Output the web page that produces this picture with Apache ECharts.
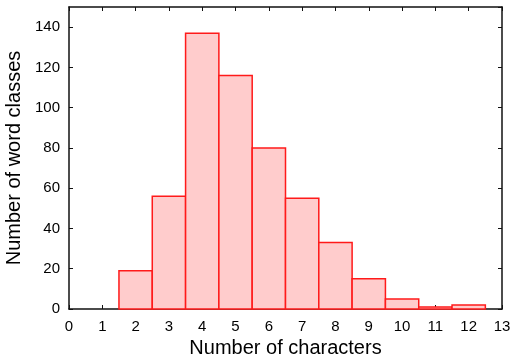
<!DOCTYPE html>
<html>
<head>
<meta charset="utf-8">
<script src="https://cdn.jsdelivr.net/npm/echarts@6/dist/echarts.min.js"></script>
<style>
  html, body { margin: 0; padding: 0; background: #fff; }
  #chart { width: 512px; height: 359px; }
</style>
</head>
<body>
<div id="chart"></div>
<script>
// Word-class counts by word length (characters)
const lengths = [2, 3, 4, 5, 6, 7, 8, 9, 10, 11, 12];
const counts  = [19, 56, 137, 116, 80, 55, 33, 15, 5, 1, 2];

const xTitle = 'Number of characters';
const yTitle = 'Number of word classes';

const font = 'Liberation Sans, Arial, Helvetica, sans-serif';
const frame = { show: true, onZero: false, lineStyle: { color: '#111', width: 1.5 } };
const ticks = { show: true, inside: true, length: 4, lineStyle: { color: '#111' } };

const chart = echarts.init(document.getElementById('chart'));
chart.setOption({
  animation: false,
  grid: { left: 69, right: 10, top: 7, bottom: 50, containLabel: false, outerBoundsMode: 'none' },
  xAxis: [
    {
      type: 'value', min: 0, max: 13, interval: 1,
      axisLine: frame, axisTick: ticks,
      axisLabel: { color: '#000', fontSize: 15, fontFamily: font, margin: 10 },
      splitLine: { show: false },
      name: xTitle, nameLocation: 'middle', nameGap: 28,
      nameTextStyle: { color: '#000', fontSize: 20, fontFamily: font }
    },
    {
      type: 'value', min: 0, max: 13, interval: 1, position: 'top',
      axisLine: frame, axisTick: ticks,
      axisLabel: { show: false }, splitLine: { show: false }
    }
  ],
  yAxis: [
    {
      type: 'value', min: 0, max: 150, interval: 20,
      axisLine: frame, axisTick: ticks,
      axisLabel: { color: '#000', fontSize: 15, fontFamily: font, margin: 9, showMaxLabel: false },
      splitLine: { show: false },
      name: yTitle, nameLocation: 'middle', nameGap: 41,
      nameTextStyle: { color: '#000', fontSize: 20, fontFamily: font }
    },
    {
      type: 'value', min: 0, max: 150, interval: 20, position: 'right',
      axisLine: frame, axisTick: ticks,
      axisLabel: { show: false }, splitLine: { show: false }
    }
  ],
  series: [{
    type: 'custom',
    xAxisIndex: 0, yAxisIndex: 0,
    data: lengths.map((l, i) => [l, counts[i]]),
    renderItem: function (params, api) {
      const x = api.value(0), y = api.value(1);
      const p0 = api.coord([x - 0.5, y]);
      const p1 = api.coord([x + 0.5, 0]);
      return {
        type: 'rect',
        shape: { x: p0[0], y: p0[1], width: p1[0] - p0[0], height: p1[1] - p0[1] },
        style: { fill: '#ffcccc', stroke: '#ff1a1a', lineWidth: 1.5 }
      };
    }
  }]
});
</script>
</body>
</html>
